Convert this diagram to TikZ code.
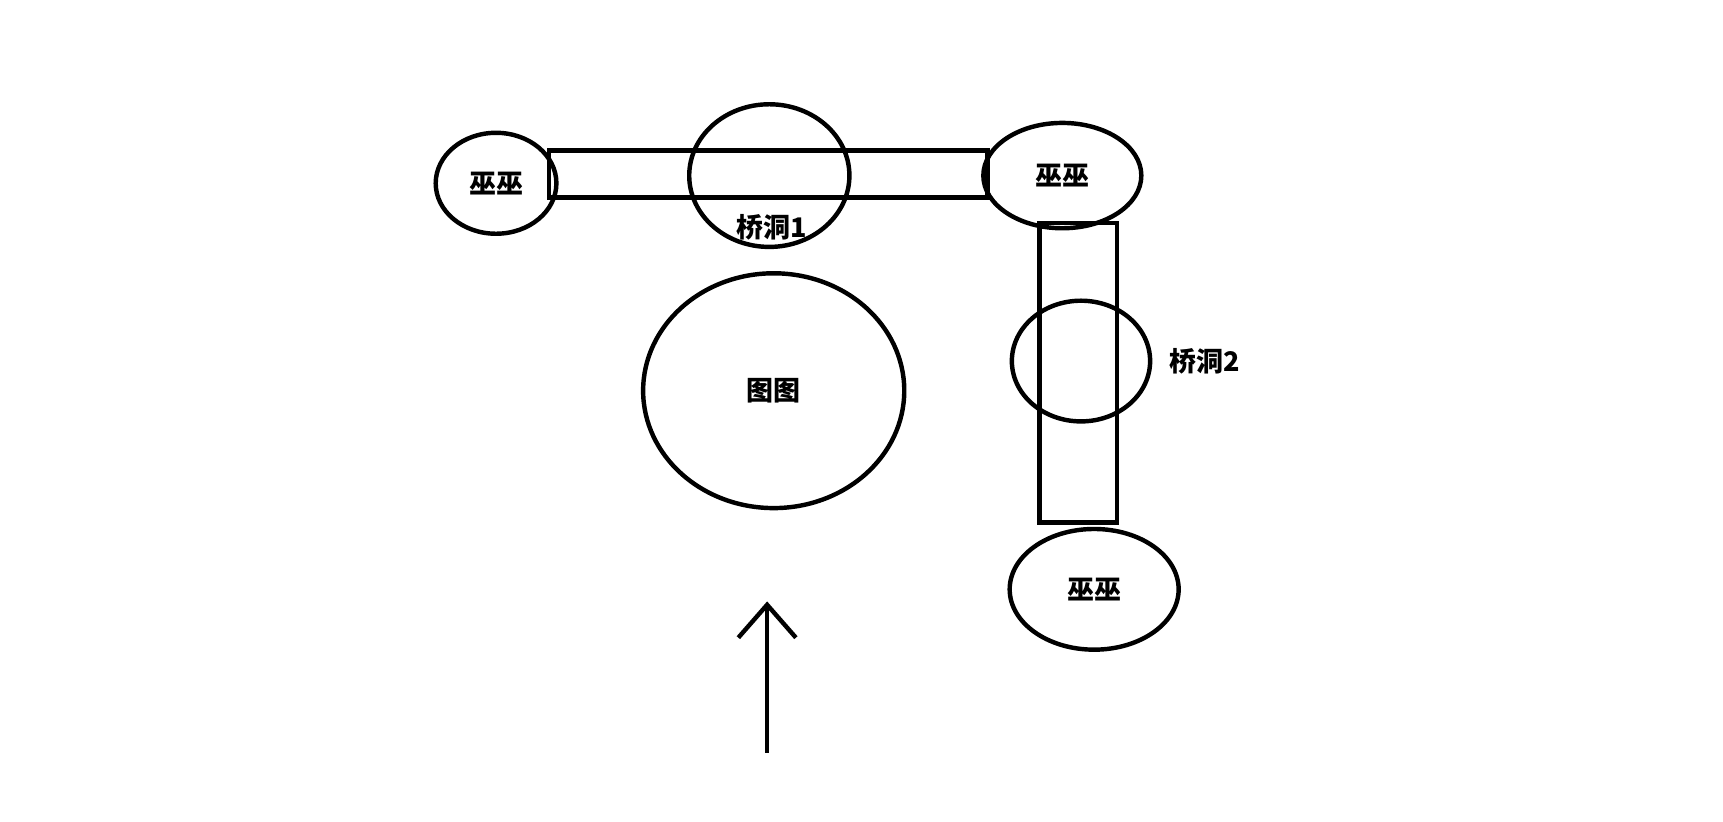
\documentclass[tikz,border=0pt]{standalone}
\usepackage{fontspec}
\usepackage{tikz}
\usetikzlibrary{shapes.geometric,positioning,arrows.meta}
\newfontfamily\cjk{Noto Sans CJK SC}

\begin{document}
\begin{tikzpicture}[
    x=0.02cm, y=-0.02cm,
    blob/.style={ellipse, draw=black, line width=2.3pt, inner sep=0pt, font=\cjk\bfseries\fontsize{14}{16}\selectfont},
    bar/.style={draw=black, line width=2.3pt},
    lbl/.style={inner sep=0pt, font=\cjk\bfseries\fontsize{14}{16}\selectfont},
    arrow/.style={-{Straight Barb[length=0.6cm, width=1.05cm, line width=2.3pt]}, line width=2.3pt}
]
\useasboundingbox (0,0) rectangle (1570,749);

% witches at the bridge ends
\node[blob, minimum width=2.2cm, minimum height=1.84cm] (wuleft) at (452,167) {巫巫};
\node[blob, minimum width=2.88cm, minimum height=1.92cm] (wuright) at (968,160) {巫巫};
\node[blob, minimum width=3.08cm, minimum height=2.2cm] (wubottom) at (997,537) {巫巫};

% bridges
\draw[bar] (500,137) rectangle (900,180);
\draw[bar] (947,203) rectangle (1018,476);

% bridge holes
\node[blob, minimum width=2.92cm, minimum height=2.6cm] (hole1) at (701,160) {};
\node[lbl] (holelabel1) at (703,207) {桥洞1};
\node[blob, minimum width=2.52cm, minimum height=2.2cm] (hole2) at (985,329) {};
\node[lbl, right=0.3cm of hole2] (holelabel2) {桥洞2};

% centre
\node[blob, minimum width=4.76cm, minimum height=4.28cm] (tutu) at (705,356) {图图};

\coordinate (tail) at (699,686);
\coordinate (tip) at (699,548);
\draw[arrow] (tail) -- (tip);

\end{tikzpicture}
\end{document}
